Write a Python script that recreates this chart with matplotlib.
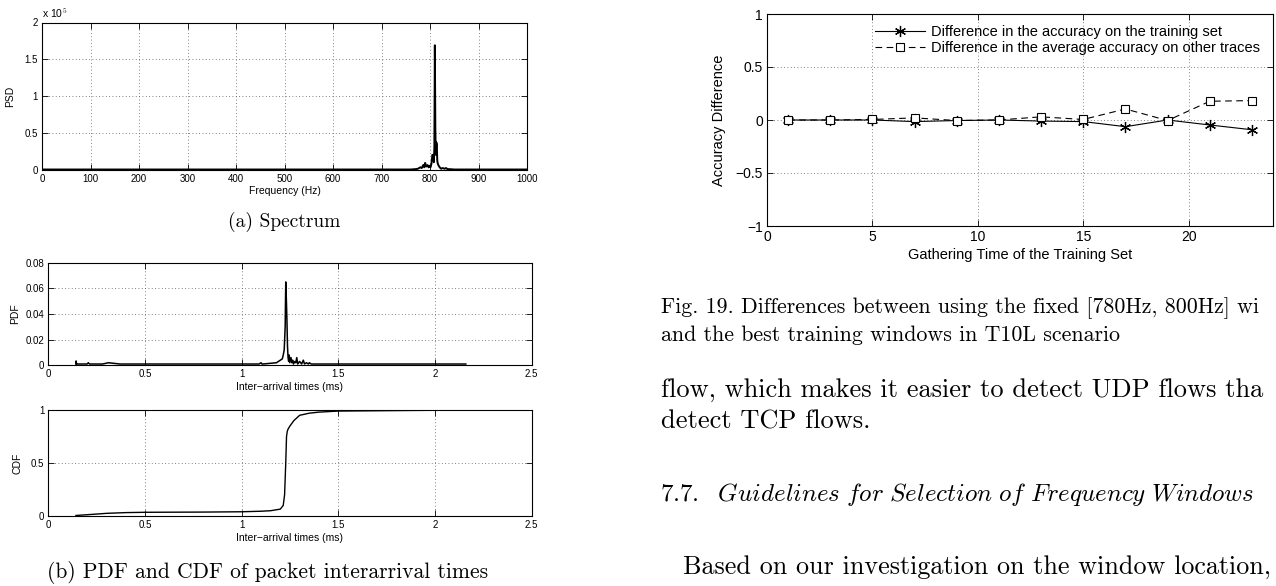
import matplotlib
matplotlib.use('Agg')
import matplotlib.pyplot as plt

plt.rcParams['font.family'] = ['Liberation Sans', 'DejaVu Sans']
plt.rcParams['mathtext.fontset'] = 'cm'

# ---- data ----
# (a) spectrum, PSD in units of 1e5
freq_hz = [0, 760, 770, 775, 780, 783, 786, 788, 790, 792, 795, 797, 799, 801,
           803, 805, 806, 807, 808, 809, 810, 811, 812, 813, 814, 815, 816, 818,
           820, 823, 826, 830, 833, 836, 840, 850, 1000]
psd_e5 = [0, 0, 0.005, 0.01, 0.03, 0.02, 0.06, 0.03, 0.09, 0.04, 0.06, 0.03,
          0.05, 0.03, 0.08, 0.2, 0.19, 0.2, 0.1, 0.3, 1.69, 0.55, 0.2, 0.37,
          0.34, 0.12, 0.08, 0.05, 0.03, 0.01, 0.02, 0.01, 0.02, 0.005, 0.005,
          0, 0]

# (b) PDF of inter-arrival times
pdf_t = [0.142, 0.143, 0.145, 0.15, 0.2, 0.206, 0.212, 0.28, 0.31, 0.34, 0.37,
         1.09, 1.1, 1.105, 1.11, 1.18, 1.19, 1.2, 1.21, 1.215, 1.22, 1.225,
         1.228, 1.231, 1.234, 1.237, 1.24, 1.243, 1.246, 1.249, 1.255, 1.26,
         1.264, 1.268, 1.275, 1.28, 1.285, 1.29, 1.3, 1.31, 1.319, 1.325,
         1.335, 1.345, 1.35, 1.36, 2.16]
pdf_v = [0.001, 0.0034, 0.001, 0.001, 0.001, 0.002, 0.001, 0.001, 0.002, 0.0015,
         0.001, 0.001, 0.002, 0.001, 0.001, 0.002, 0.003, 0.004, 0.005, 0.008,
         0.012, 0.03, 0.065, 0.052, 0.036, 0.015, 0.006, 0.003, 0.008, 0.002,
         0.006, 0.002, 0.004, 0.001, 0.003, 0.002, 0.006, 0.001, 0.003, 0.001,
         0.004, 0.001, 0.002, 0.001, 0.002, 0.001, 0.001]

# (b) CDF of inter-arrival times
cdf_t = [0.142, 0.2, 0.3, 0.4, 0.5, 0.8, 1.0, 1.1, 1.15, 1.2, 1.215, 1.222,
         1.228, 1.232, 1.236, 1.24, 1.25, 1.27, 1.3, 1.35, 1.4, 1.5, 2.16]
cdf_v = [0.005, 0.012, 0.025, 0.032, 0.035, 0.037, 0.04, 0.045, 0.05, 0.065,
         0.1, 0.2, 0.5, 0.75, 0.8, 0.82, 0.85, 0.9, 0.95, 0.97, 0.98, 0.99, 1.0]

# Fig. 19
gather_time = [1, 3, 5, 7, 9, 11, 13, 15, 17, 19, 21, 23]
diff_train = [0, 0, 0, -0.015, -0.005, 0, -0.01, -0.015, -0.063, 0, -0.047, -0.092]
diff_other = [0, 0, 0.005, 0.02, -0.005, 0, 0.03, 0.005, 0.104, -0.005, 0.177, 0.183]
legend_labels = ['Difference in the accuracy on the training set',
                 'Difference in the average accuracy on other traces']

W, H = 1276, 586
fig = plt.figure(figsize=(W / 100, H / 100), dpi=100)


def box(x0, y0, x1, y1):
    # pixel box -> figure fraction
    return [x0 / W, 1 - y1 / H, (x1 - x0) / W, (y1 - y0) / H]


def matlab_style(ax, fs):
    ax.tick_params(direction='in', top=True, right=True, length=4, width=0.6,
                   labelsize=fs, pad=3)
    ax.grid(True, linestyle=(0, (1, 3)), color='0.35', linewidth=0.6)
    ax.set_axisbelow(True)
    for s in ax.spines.values():
        s.set_linewidth(0.8)


serif = 'cmr10'

# ---------------- (a) Spectrum ----------------
ax1 = fig.add_axes(box(42, 22.5, 527, 169.5))
ax1.plot(freq_hz, psd_e5, color='k', lw=1.4)
ax1.set_xlim(0, 1000)
ax1.set_ylim(0, 2)
ax1.set_xticks(range(0, 1001, 100))
ax1.set_yticks([0, 0.5, 1, 1.5, 2])
ax1.set_yticklabels(['0', '0.5', '1', '1.5', '2'])
matlab_style(ax1, 7)
ax1.set_xlabel('Frequency (Hz)', fontsize=7.5, labelpad=2)
ax1.set_ylabel('PSD', fontsize=7.5, labelpad=7)
ax1.text(0, 1.02, r'x 10$^{5}$', transform=ax1.transAxes, fontsize=7.5,
         ha='left', va='bottom')
fig.text(284.5 / W, 1 - 222 / H, '(a) Spectrum', family=serif, fontsize=14,
         ha='center', va='center')

# ---------------- (b) PDF ----------------
ax2 = fig.add_axes(box(48.5, 262.7, 531.5, 365.3))
ax2.plot(pdf_t, pdf_v, color='k', lw=1.1)
ax2.set_xlim(0, 2.5)
ax2.set_ylim(0, 0.08)
ax2.set_xticks([0, 0.5, 1, 1.5, 2, 2.5])
ax2.set_xticklabels(['0', '0.5', '1', '1.5', '2', '2.5'])
ax2.set_yticks([0, 0.02, 0.04, 0.06, 0.08])
ax2.set_yticklabels(['0', '0.02', '0.04', '0.06', '0.08'])
matlab_style(ax2, 7)
ax2.set_xlabel('Inter\u2212arrival times (ms)', fontsize=7.5, labelpad=2)
ax2.set_ylabel('PDF', fontsize=7.5, labelpad=4)

# ---------------- (b) CDF ----------------
ax3 = fig.add_axes(box(48.5, 410, 531.5, 516))
ax3.plot(cdf_t, cdf_v, color='k', lw=1.0)
ax3.set_xlim(0, 2.5)
ax3.set_ylim(0, 1)
ax3.set_xticks([0, 0.5, 1, 1.5, 2, 2.5])
ax3.set_xticklabels(['0', '0.5', '1', '1.5', '2', '2.5'])
ax3.set_yticks([0, 0.5, 1])
ax3.set_yticklabels(['0', '0.5', '1'])
matlab_style(ax3, 7)
ax3.set_xlabel('Inter\u2212arrival times (ms)', fontsize=7.5, labelpad=2)
ax3.set_ylabel('CDF', fontsize=7.5, labelpad=6)
fig.text(268 / W, 1 - 573 / H, '(b) PDF and CDF of packet interarrival times',
         family=serif, fontsize=15.5, ha='center', va='center')

# ---------------- Fig. 19 ----------------
ax4 = fig.add_axes(box(767, 14, 1273, 226))
ax4.plot(gather_time, diff_train, color='k', lw=0.8, marker=(6, 2, 0),
         markersize=8, markeredgewidth=0.9, label=legend_labels[0])
ax4.plot(gather_time, diff_other, color='k', lw=0.8, dashes=(6, 4),
         marker='s', markersize=6, markerfacecolor='white',
         markeredgewidth=0.8, label=legend_labels[1])
ax4.set_xlim(0, 24)
ax4.set_ylim(-1, 1)
ax4.set_xticks([0, 5, 10, 15, 20])
ax4.set_yticks([-1, -0.5, 0, 0.5, 1])
ax4.set_yticklabels(['\u22121', '\u22120.5', '0', '0.5', '1'])
matlab_style(ax4, 10)
ax4.set_xlabel('Gathering Time of the Training Set', fontsize=10.5, labelpad=3)
ax4.set_ylabel('Accuracy Difference', fontsize=10.5, labelpad=7)
ax4.legend(loc='upper right', bbox_to_anchor=(0.995, 1.0), frameon=False,
           fontsize=10.5, handlelength=3.4, handletextpad=0.4,
           labelspacing=0.15, borderaxespad=0.35)

# ---------------- page text (cut at the page edge as in the scan) ----------------
fig.text(661 / W, 1 - 308 / H,
         'Fig. 19. Differences between using the fixed [780Hz, 800Hz] wi',
         family=serif, fontsize=15.8, ha='left', va='center')
fig.text(661 / W, 1 - 335 / H,
         'and the best training windows in T10L scenario',
         family=serif, fontsize=15.8, ha='left', va='center')
fig.text(661 / W, 1 - 390 / H,
         'flow, which makes it easier to detect UDP flows tha',
         family=serif, fontsize=19, ha='left', va='center')
fig.text(661 / W, 1 - 422 / H, 'detect TCP flows.',
         family=serif, fontsize=19, ha='left', va='center')
fig.text(660 / W, 1 - 495 / H,
         r'$\mathrm{7.7.}\ \ \mathit{Guidelines\ for\ Selection\ of\ Frequency\ Windows}$',
         fontsize=18, ha='left', va='center')
fig.text(683 / W, 1 - 567 / H,
         'Based on our investigation on the window location,',
         family=serif, fontsize=18.8, ha='left', va='center')

fig.savefig('out.png', dpi=100)
